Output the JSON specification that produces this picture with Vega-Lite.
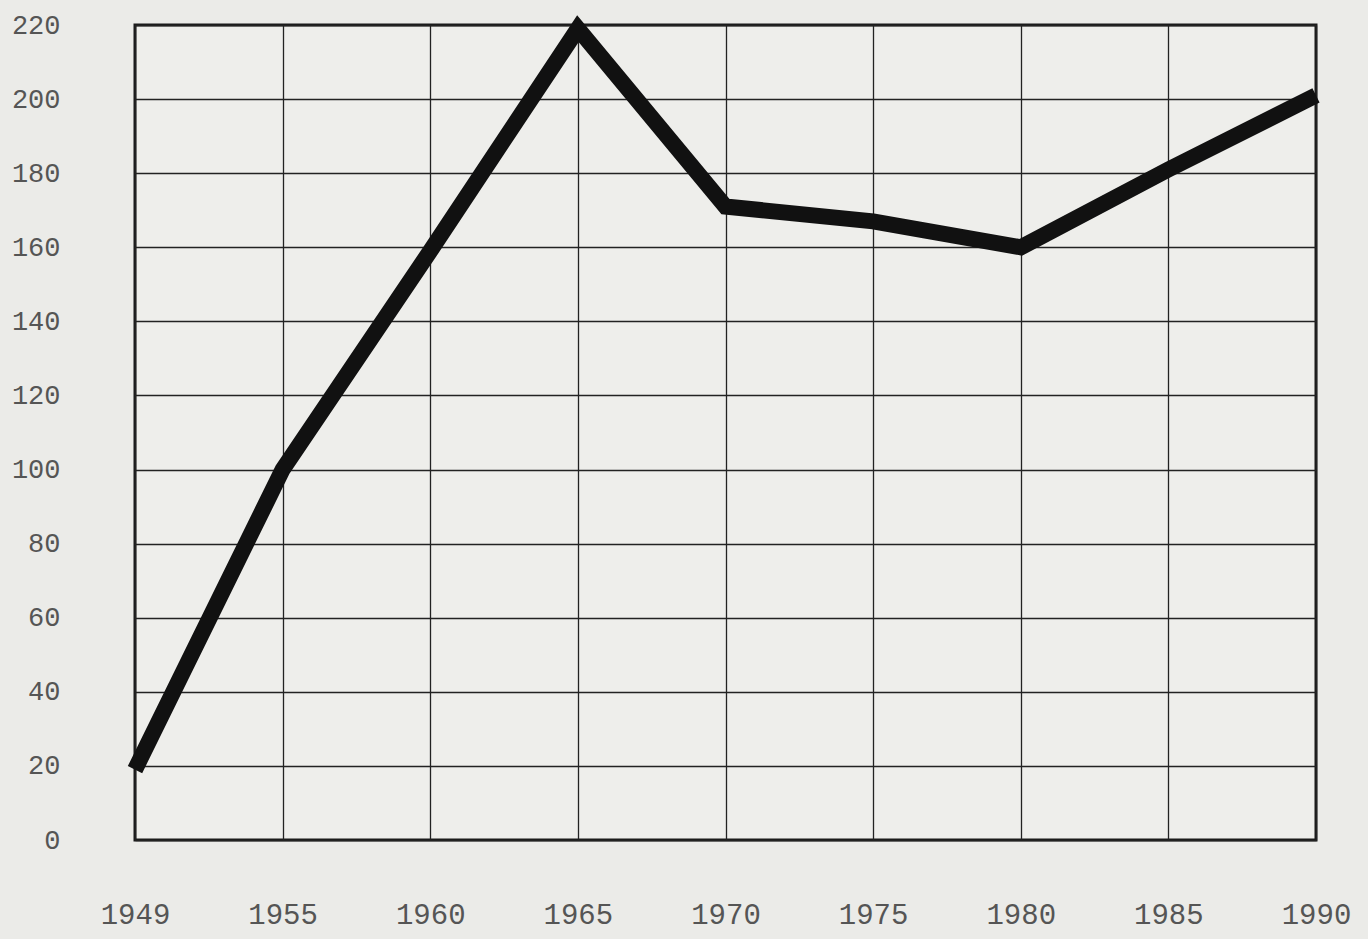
{
  "$schema": "https://vega.github.io/schema/vega-lite/v6.json",
  "width": 1181,
  "height": 815,
  "autosize": "none",
  "padding": {"left": 135, "top": 25, "right": 52, "bottom": 99},
  "background": "#ebebe8",
  "config": {
    "view": {"stroke": "#1a1a1a", "strokeWidth": 3, "fill": "#eeeeeb"},
    "axis": {
      "labelFont": "Liberation Mono",
      "labelFontSize": 27,
      "labelColor": "#555555",
      "grid": true,
      "gridColor": "#222222",
      "gridWidth": 1.3,
      "gridOpacity": 1,
      "domain": false,
      "ticks": false,
      "title": null
    }
  },
  "data": {
    "values": [
      {"year": "1949", "value": 19},
      {"year": "1955", "value": 100},
      {"year": "1960", "value": 159},
      {"year": "1965", "value": 219},
      {"year": "1970", "value": 171},
      {"year": "1975", "value": 167},
      {"year": "1980", "value": 160},
      {"year": "1985", "value": 181},
      {"year": "1990", "value": 201}
    ]
  },
  "mark": {"type": "line", "color": "#111111", "strokeWidth": 16, "strokeJoin": "miter", "strokeCap": "butt"},
  "encoding": {
    "x": {
      "field": "year",
      "type": "ordinal",
      "scale": {"type": "point", "padding": 0},
      "axis": {"labelAngle": 0, "labelPadding": 60, "labelBaseline": "top", "labelFontSize": 29}
    },
    "y": {
      "field": "value",
      "type": "quantitative",
      "scale": {"domain": [0, 220], "nice": false},
      "axis": {"values": [0, 20, 40, 60, 80, 100, 120, 140, 160, 180, 200, 220], "labelPadding": 75, "labelAlign": "right"}
    }
  }
}
